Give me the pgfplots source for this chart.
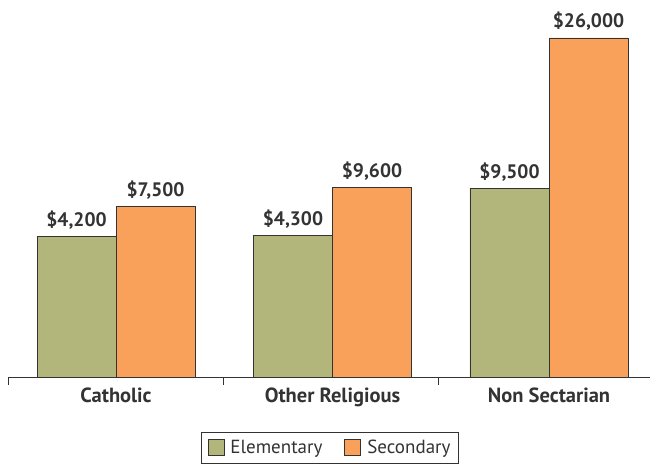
\documentclass[border=0pt]{standalone}
\usepackage{pgfplots}
\pgfplotsset{compat=1.18}
\usepackage{pgfplotstable}
\usepackage{fontspec}
\setmainfont{PT Sans}
\definecolor{olive}{HTML}{B3B67A}
\definecolor{orng}{HTML}{F9A15A}
\definecolor{edge}{HTML}{333333}
\pgfplotstableread{
x v
0 4200
1 4300
2 9500
}\elem
\pgfplotstableread{
x v
0 7500
1 9600
2 26000
}\sec
\begin{document}
\begin{tikzpicture}
\begin{axis}[
  at={(8bp,88bp)}, anchor=south west,
  scale only axis, width=642bp, height=377bp,
  xmin=-0.499, xmax=2.4665, ymin=0, ymax=41370,
  axis x line=bottom, axis y line=none,
  axis line style={edge, line width=0.9bp, -},
  xtick={0,1,2}, xticklabels={Catholic,Other Religious,Non Sectarian},
  major tick length=0pt,
  minor xtick={-0.499,0.494,1.487},
  minor tick length=8bp,
  xtick align=outside,
  minor tick style={edge, line width=0.9bp},
  xticklabel style={font=\fontsize{20.5bp}{24bp}\selectfont\bfseries, text=edge, anchor=base, yshift=-26bp},
  /pgf/number format/assume math mode=true,
  clip=false,
  ybar, bar width=0.365,
  every axis plot/.append style={draw=edge, line width=0.9bp},
  nodes near coords={\$\pgfmathprintnumber[fixed,precision=0,1000 sep={,}]{\pgfplotspointmeta}},
  nodes near coords style={font=\fontsize{19.5bp}{23bp}\selectfont\bfseries, text=edge, anchor=base, inner sep=0pt, yshift=10bp},
  point meta=explicit,
  legend style={at={(0.5016,0)}, anchor=north, yshift=-55bp, draw=edge, line width=0.9bp,
    font=\fontsize{19bp}{22bp}\selectfont, text=edge, legend columns=2,
    /tikz/every even column/.append style={column sep=20bp}, inner xsep=6bp, inner ysep=6bp},
  legend image code/.code={\draw[#1, line width=0.8bp] (0bp,-7bp) rectangle (16bp,9bp); \path (20bp,0bp);},
]
\addplot[fill=olive, bar shift=-0.1825] table[x=x, y expr=\thisrow{v}+11200, meta=v] {\elem};
\addplot[fill=orng, bar shift=0.1825] table[x=x, y expr=\thisrow{v}+11200, meta=v] {\sec};
\legend{Elementary,Secondary}
\end{axis}
\pgfresetboundingbox
\useasboundingbox (0,0) rectangle (650bp,465bp);
\end{tikzpicture}
\end{document}
